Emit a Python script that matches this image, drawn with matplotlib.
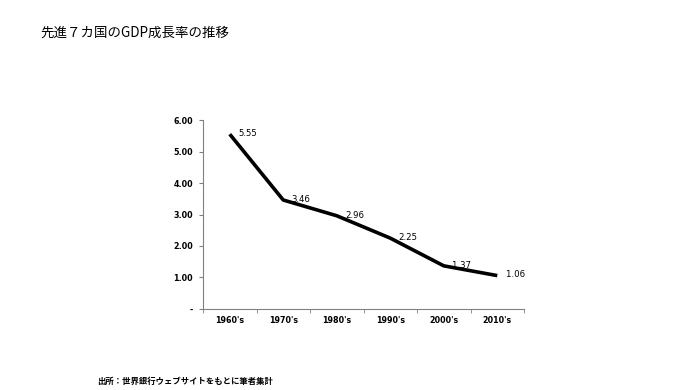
import matplotlib
matplotlib.use("Agg")
import matplotlib.pyplot as plt
import matplotlib.ticker as mticker

plt.rcParams['font.family'] = ['Noto Sans CJK JP', 'DejaVu Sans']

# --- Data ---
decades = ["1960's", "1970's", "1980's", "1990's", "2000's", "2010's"]
growth = [5.55, 3.46, 2.96, 2.25, 1.37, 1.06]
y_ticks = [0, 1, 2, 3, 4, 5, 6]

fig = plt.figure(figsize=(7, 3.9), dpi=100)
ax = fig.add_axes([0.29, 0.2077, 0.4586, 0.4846])

x = list(range(len(decades)))
ax.plot(x, growth, color='black', linewidth=2.6, solid_capstyle='butt')

# data labels just right of each point
for xi, v in zip(x, growth):
    ax.annotate(f'{v:.2f}', (xi, v), xytext=(6, 0.5), textcoords='offset points',
                ha='left', va='center', fontsize=6.8, family='DejaVu Sans',
                stretch='condensed')

ax.set_xlim(-0.5, len(decades) - 0.5)
ax.set_ylim(0, 6)
ax.set_yticks(y_ticks)
ax.yaxis.set_major_formatter(mticker.FuncFormatter(lambda v, p: '-' if v == 0 else f'{v:.2f}'))
ax.set_xticks(x)
ax.set_xticklabels(decades)
ax.set_xticks([i + 0.5 for i in range(-1, len(decades))], minor=True)

for s in ['top', 'right']:
    ax.spines[s].set_visible(False)
for s in ['left', 'bottom']:
    ax.spines[s].set_color('#808080')
    ax.spines[s].set_linewidth(0.8)

ax.tick_params(axis='y', length=3, color='#808080', labelsize=6.4, pad=4)
ax.tick_params(axis='x', which='major', length=0, labelsize=6.4, pad=5)
ax.tick_params(axis='x', which='minor', length=3, color='#808080')
for lab in ax.get_xticklabels() + ax.get_yticklabels():
    lab.set_family('DejaVu Sans')
    lab.set_fontweight('bold')
    lab.set_fontstretch('condensed')

fig.text(40 / 700, 1 - 33 / 390, '先進７カ国のGDP成長率の推移', fontsize=9.7,
         ha='left', va='center')
fig.text(97 / 700, 1 - 381 / 390, '出所：世界銀行ウェブサイトをもとに筆者集計', fontsize=6,
         ha='left', va='center', fontweight='bold')

fig.savefig('out.png', dpi=100)
